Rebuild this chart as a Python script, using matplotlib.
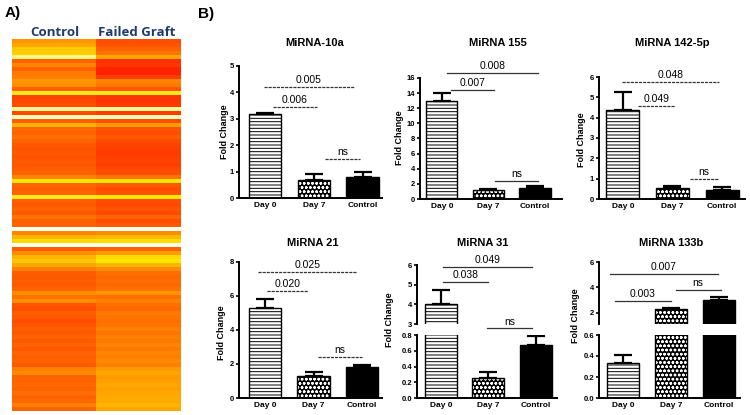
import numpy as np
import matplotlib
matplotlib.use("Agg")
import matplotlib.pyplot as plt
from matplotlib.colors import LinearSegmentedColormap

# ---- heatmap data (0 = red, 1 = pale yellow) ----
control = [0.48, 0.55, 0.68, 0.70, 0.90, 0.30, 0.42, 0.30, 0.38, 0.40,
           0.48, 0.45, 0.30, 0.82, 0.18, 0.20, 0.22, 0.92, 0.20, 0.95,
           0.28, 0.60, 0.32, 0.30, 0.34, 0.30, 0.26, 0.24, 0.26, 0.24,
           0.26, 0.25, 0.27, 0.30, 0.42, 0.80, 0.30, 0.28, 0.30, 0.82,
           0.28, 0.26, 0.30, 0.26, 0.36, 0.28, 0.30, 1.00, 0.42, 0.60,
           0.75, 1.00, 0.28, 0.45, 0.60, 0.68, 0.55, 0.40, 0.28, 0.26,
           0.27, 0.26, 0.30, 0.45, 0.36, 0.45, 0.24, 0.22, 0.28, 0.26,
           0.22, 0.24, 0.28, 0.26, 0.30, 0.26, 0.30, 0.25, 0.30, 0.28,
           0.30, 0.26, 0.40, 0.44, 0.30, 0.30, 0.32, 0.30, 0.34, 0.30,
           0.32, 0.40, 0.30]
failed = [0.22, 0.24, 0.30, 0.36, 0.55, 0.12, 0.14, 0.08, 0.08, 0.16,
          0.42, 0.38, 0.25, 0.82, 0.14, 0.14, 0.16, 0.92, 0.16, 0.95,
          0.22, 0.50, 0.24, 0.22, 0.26, 0.20, 0.18, 0.17, 0.16, 0.17,
          0.18, 0.17, 0.20, 0.22, 0.36, 0.80, 0.26, 0.22, 0.24, 0.80,
          0.22, 0.20, 0.24, 0.20, 0.30, 0.22, 0.26, 1.00, 0.45, 0.62,
          0.78, 1.00, 0.30, 0.50, 0.75, 0.80, 0.60, 0.45, 0.34, 0.32,
          0.33, 0.32, 0.35, 0.48, 0.34, 0.40, 0.34, 0.32, 0.38, 0.36,
          0.34, 0.36, 0.40, 0.36, 0.40, 0.38, 0.42, 0.38, 0.42, 0.40,
          0.44, 0.40, 0.50, 0.54, 0.50, 0.52, 0.54, 0.52, 0.55, 0.56,
          0.56, 0.60, 0.55]
heat_cols = ["Control", "Failed Graft"]

# ---- bar chart data ----
groups = ["Day 0", "Day 7", "Control"]
titles = ["MiRNA-10a", "MiRNA 155", "MiRNA 142-5p", "MiRNA 21", "MiRNA 31", "MiRNA 133b"]
means = [[3.18, 0.70, 0.80],
         [12.9, 1.20, 1.45],
         [4.38, 0.53, 0.45],
         [5.30, 1.30, 1.80],
         [4.00, 0.25, 0.67],
         [0.33, 2.30, 2.99]]
sems = [[0.04, 0.20, 0.17],
        [1.10, 0.08, 0.30],
        [0.90, 0.12, 0.15],
        [0.50, 0.22, 0.13],
        [0.75, 0.08, 0.12],
        [0.08, 0.10, 0.26]]
pvals = [["0.005", "0.006", "ns"],
         ["0.008", "0.007", "ns"],
         ["0.048", "0.049", "ns"],
         ["0.025", "0.020", "ns"],
         ["0.049", "0.038", "ns"],
         ["0.007", "0.003", "ns"]]

W, H = 750, 415
plt.rcParams["font.family"] = ["Liberation Sans", "DejaVu Sans"]
plt.rcParams["font.weight"] = "bold"
plt.rcParams["hatch.linewidth"] = 0.7

fig = plt.figure(figsize=(W / 100, H / 100), dpi=100)


def rect(l, t, r, b):
    return [l / W, 1 - b / H, (r - l) / W, (b - t) / H]


# ---------- A) heatmap ----------
cmap = LinearSegmentedColormap.from_list(
    "heat", [(0.0, "#ff0800"), (0.12, "#ff3000"), (0.24, "#ff5400"),
             (0.36, "#ff7400"), (0.48, "#ff9600"), (0.6, "#ffb400"),
             (0.72, "#ffd200"), (0.8, "#ffe600"), (0.9, "#fff580"),
             (1.0, "#fffff0")])
axh = fig.add_axes(rect(12, 39, 181, 411))
axh.imshow(np.column_stack([control, failed]), cmap=cmap, vmin=0, vmax=1,
           aspect="auto", interpolation="nearest")
axh.axis("off")
for i, lab in enumerate(heat_cols):
    fig.text((55 + 82 * i) / W, 1 - 33 / H, lab, ha="center", va="center",
             fontsize=9.5, color="#1f3a70", family="Open Sans", weight="bold")
fig.text(5 / W, 1 - 13 / H, "A)", fontsize=11, weight="bold", va="center")
fig.text(198 / W, 1 - 14 / H, "B)", fontsize=11, weight="bold", va="center")


def draw_bars(ax, vals, errs):
    x = np.arange(3)
    w = 0.67
    ax.bar(x[0], vals[0], w, color="white", edgecolor="black", hatch="-----", lw=1.0, zorder=2)
    ax.bar(x[1], vals[1], w, color="black", edgecolor="white", hatch="oooo", lw=0, zorder=2)
    ax.bar(x[1], vals[1], w, fill=False, edgecolor="black", lw=1.0, zorder=2)
    ax.bar(x[2], vals[2], w, color="black", edgecolor="black", lw=1.0, zorder=2)
    ax.errorbar(x, vals, yerr=[np.zeros(3), errs], fmt="none", ecolor="black",
                elinewidth=1.6, capsize=6.5, capthick=1.6, zorder=3)


def style(ax, xlim, bottom=True):
    ax.set_xlim(*xlim)
    ax.set_facecolor("none")
    for s in ["top", "right"]:
        ax.spines[s].set_visible(False)
    ax.spines["left"].set_linewidth(1.4)
    ax.spines["bottom"].set_linewidth(1.4)
    ax.tick_params(axis="y", length=2.5, width=1.2, labelsize=5.5, pad=1)
    if bottom:
        ax.set_xticks(range(3))
        ax.set_xticklabels(groups)
        ax.tick_params(axis="x", length=0, labelsize=6, pad=3)
    else:
        ax.spines["bottom"].set_visible(False)
        ax.set_xticks([])


def bracket(ax, x0, x1, y, label, ls, dy=1.5):
    ax.plot([x0, x1], [y, y], color="#333333", lw=0.9, ls=ls, clip_on=False, zorder=4)
    ax.annotate(label, ((x0 + x1) / 2, y), xytext=(0, dy), textcoords="offset points",
                ha="center", va="bottom", fontsize=7.5, fontweight="normal",
                annotation_clip=False)


dash = (0, (2.5, 0.8))

# simple panels: rect, xlim, ylim, yticks, bracket (x0, x1, y) list, linestyle
simple = [
    (0, (239, 66, 382, 198), (-0.53, 2.39), (0, 5), range(0, 6),
     [(-0.02, 1.82, 4.2), (0.16, 1.06, 3.44), (1.22, 1.94, 1.48)], dash),
    (1, (420, 78, 562, 199), (-0.47, 2.58), (0, 16), range(0, 17, 2),
     [(0.11, 2.06, 16.7), (0.19, 1.12, 14.4), (1.14, 2.06, 2.4)], "-"),
    (2, (599, 77, 745, 199), (-0.48, 2.46), (0, 6), range(0, 7),
     [(-0.02, 1.94, 5.77), (0.30, 1.05, 4.58), (1.35, 1.92, 0.98)], dash),
    (3, (239, 262, 382, 398), (-0.54, 2.41), (0, 8), range(0, 9, 2),
     [(-0.14, 1.90, 7.4), (0.04, 0.89, 6.3), (1.09, 2.00, 2.4)], dash),
]
title_pos = [(315, 43), (498, 43), (672, 43), (313, 243), (483, 243), (671, 243)]
ylab_pos = [(224, 132), (399, 138), (582, 140), (222, 333), (390, 320), (576, 316)]

for i, r, xl, yl, yt, br, ls in simple:
    ax = fig.add_axes(rect(*r))
    draw_bars(ax, means[i], sems[i])
    style(ax, xl)
    ax.set_ylim(*yl)
    ax.set_yticks(list(yt))
    for (x0, x1, y), lab in zip(br, pvals[i]):
        bracket(ax, x0, x1, y, lab, ls)

# broken-axis panels
broken = [
    (4, (417, 265, 557, 324), (417, 335, 557, 398), (-0.5, 2.44),
     (3, 6), [3, 4, 5, 6], (0, 0.8), [0, 0.2, 0.4, 0.6, 0.8]),
    (5, (599, 262, 740, 324), (599, 335, 740, 398), (-0.5, 2.44),
     (1.1, 6), [2, 4, 6], (0, 0.6), [0, 0.2, 0.4, 0.6]),
]
for i, ru, rl, xl, ylu, ytu, yll, ytl in broken:
    axu = fig.add_axes(rect(*ru))
    axl = fig.add_axes(rect(*rl))
    for ax in (axu, axl):
        draw_bars(ax, means[i], sems[i])
    style(axu, xl, bottom=False)
    style(axl, xl)
    axu.set_ylim(*ylu)
    axu.set_yticks(ytu)
    axl.set_ylim(*yll)
    axl.set_yticks(ytl)
    axl.set_yticklabels([f"{v:.1f}" for v in ytl])
    if i == 4:
        bracket(axu, 0.04, 1.92, 5.9, pvals[i][0], "-")
        bracket(axu, 0.04, 0.99, 5.13, pvals[i][1], "-")
        bracket(axl, 0.97, 1.92, 0.89, pvals[i][2], "-", dy=1)
    else:
        bracket(axu, -0.27, 1.98, 5.06, pvals[i][0], "-")
        bracket(axu, -0.17, 1.00, 2.9, pvals[i][1], "-")
        bracket(axu, 1.10, 2.04, 3.75, pvals[i][2], "-")

for t, (x, y) in zip(titles, title_pos):
    fig.text(x / W, 1 - y / H, t, ha="center", va="center", fontsize=8)
for x, y in ylab_pos:
    fig.text(x / W, 1 - y / H, "Fold Change", rotation=90, ha="center", va="center",
             fontsize=6.5)

fig.savefig("out.png", dpi=100)
